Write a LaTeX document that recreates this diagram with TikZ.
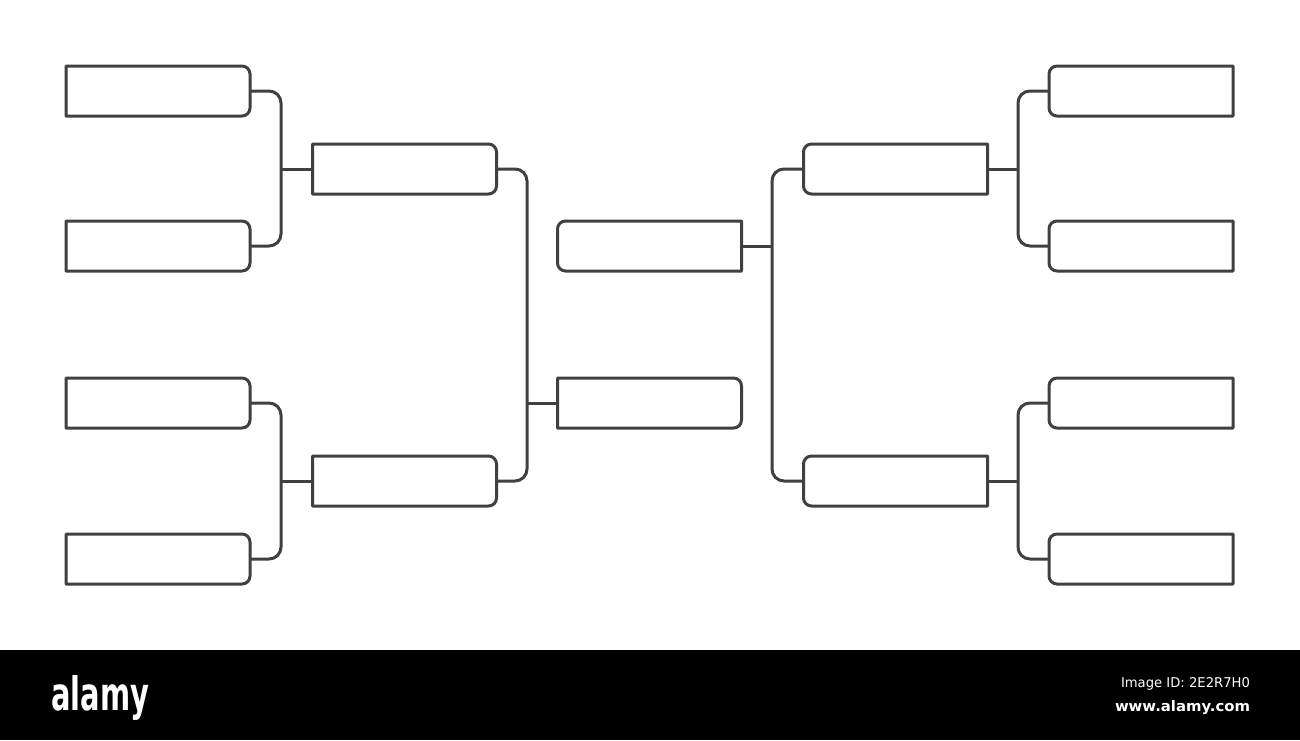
\documentclass[tikz,border=0pt]{standalone}
\usepackage{fontspec}
\setmainfont{DejaVu Sans}
\setsansfont{DejaVu Sans}
\begin{document}
\begin{tikzpicture}[x=1pt,y=-1pt,
  edge/.style={draw=black!75, line width=3pt, line join=round},
  slot/.style={rectangle, minimum width=184pt, minimum height=50pt, inner sep=0pt, outer sep=0pt},
  link/.style={edge, rounded corners=12pt},
  wmtext/.style={text=white, inner sep=0pt, outer sep=0pt}]
\useasboundingbox (0,0) rectangle (1300,740);
\fill[white] (0,0) rectangle (1300,740);
% nodes
\node[slot] (L1) at (158,91) {};
\node[slot] (L2) at (158,246) {};
\node[slot] (L3) at (158,403) {};
\node[slot] (L4) at (158,559) {};
\node[slot] (S1) at (404.5,169) {};
\node[slot] (S2) at (404.5,481) {};
\node[slot] (C1) at (649.5,246) {};
\node[slot] (C2) at (649.5,403) {};
\node[slot] (T1) at (895.5,169) {};
\node[slot] (T2) at (895.5,481) {};
\node[slot] (R1) at (1141,91) {};
\node[slot] (R2) at (1141,246) {};
\node[slot] (R3) at (1141,403) {};
\node[slot] (R4) at (1141,559) {};
% outlines: rounded on the right
\foreach \n in {L1,L2,L3,L4,S1,S2,C2}{
  \draw[edge] (\n.west) -- (\n.north west) [rounded corners=8pt] -- (\n.north east) -- (\n.south east) [sharp corners] -- (\n.south west) -- cycle;
}
% outlines: rounded on the left
\foreach \n in {R1,R2,R3,R4,T1,T2,C1}{
  \draw[edge] (\n.east) -- (\n.north east) [rounded corners=8pt] -- (\n.north west) -- (\n.south west) [sharp corners] -- (\n.south east) -- cycle;
}
% bracket columns
\coordinate (xa) at (281,0);
\coordinate (xb) at (527,0);
\coordinate (xc) at (772,0);
\coordinate (xd) at (1018,0);
\draw[link] (L1.east) -- (L1.east -| xa) -- (L2.east -| xa) -- (L2.east);
\draw[link] (L3.east) -- (L3.east -| xa) -- (L4.east -| xa) -- (L4.east);
\draw[edge] (S1.west) -- (S1.west -| xa);
\draw[edge] (S2.west) -- (S2.west -| xa);
\draw[link] (S1.east) -- (S1.east -| xb) -- (S2.east -| xb) -- (S2.east);
\draw[edge] (C2.west) -- (C2.west -| xb);
\draw[link] (T1.west) -- (T1.west -| xc) -- (T2.west -| xc) -- (T2.west);
\draw[edge] (C1.east) -- (C1.east -| xc);
\draw[link] (R1.west) -- (R1.west -| xd) -- (R2.west -| xd) -- (R2.west);
\draw[link] (R3.west) -- (R3.west -| xd) -- (R4.west -| xd) -- (R4.west);
\draw[edge] (T1.east) -- (T1.east -| xd);
\draw[edge] (T2.east) -- (T2.east -| xd);
% banner
\fill[black] (0,650) rectangle (1300,740);
\node[wmtext, anchor=base west] (logo) at (51,710) {\resizebox{98pt}{35pt}{\bfseries alamy}};
\node[wmtext, anchor=base east] (imgid) at (1250,687) {\resizebox{129pt}{10pt}{Image ID: 2E2R7H0}};
\node[wmtext, anchor=base east] (site) at (1250,711) {\resizebox{135pt}{11pt}{\bfseries www.alamy.com}};
\end{tikzpicture}
\end{document}
